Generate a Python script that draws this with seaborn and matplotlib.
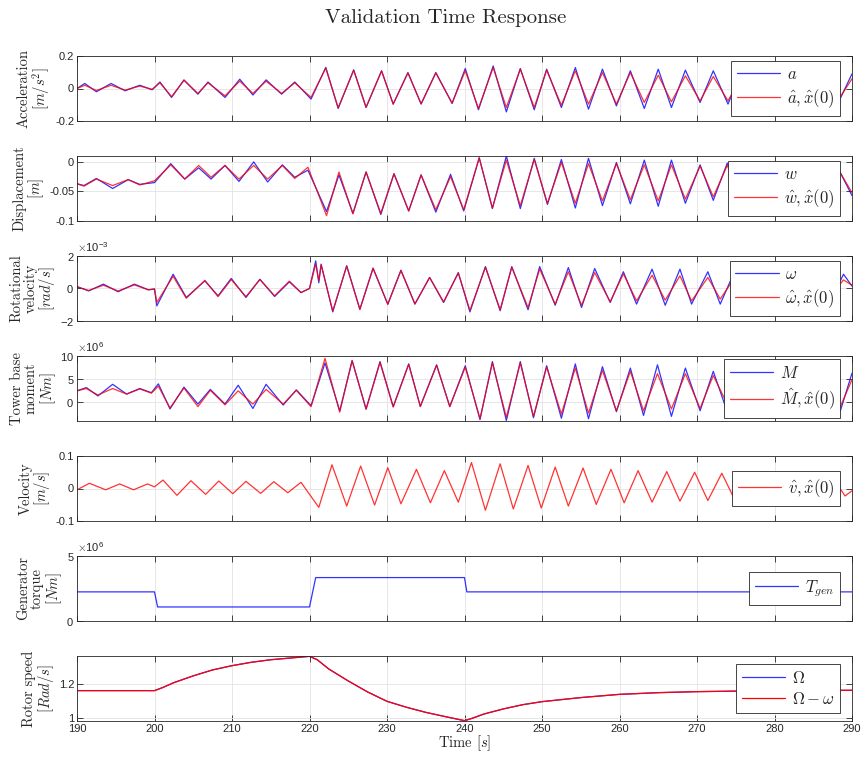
import numpy as np
import pandas as pd
import matplotlib
matplotlib.use('Agg')
import matplotlib.pyplot as plt
from matplotlib import ticker
import seaborn as sns

# values: peaks / troughs of each trace

# acceleration [m/s^2]
acc_t = [190.0, 191.0, 192.5, 194.4, 196.2, 198.1, 199.7,
         200.7, 202.2, 203.8, 205.6, 206.9, 209.1, 211.0, 212.7, 214.4, 216.4, 218.1, 220.2,
         222.1, 223.7, 225.7, 227.3, 229.3, 230.8, 232.7, 234.4, 236.3, 238.4,
         240.1, 241.8, 243.7, 245.4, 247.2, 249.0, 250.6, 252.5, 254.3, 256.0,
         257.8, 259.6, 261.4, 263.2, 265.0, 266.7, 268.5, 270.4, 272.1, 274.0,
         275.7, 277.4, 279.2, 281.0, 282.8, 284.6, 286.3, 288.3, 290.0]
acc_meas = [0.0, 0.031, -0.020, 0.031, -0.014, 0.020, -0.008,
            0.040, -0.055, 0.053, -0.035, 0.040, -0.055, 0.057, -0.040, 0.053, -0.035, 0.040, -0.065,
            0.130, -0.123, 0.115, -0.117, 0.109, -0.096, 0.098, -0.096, 0.098, -0.092,
            0.123, -0.131, 0.139, -0.144, 0.123, -0.131, 0.119, -0.117, 0.129, -0.127,
            0.119, -0.107, 0.109, -0.123, 0.119, -0.117, 0.113, -0.086, 0.109, -0.096,
            0.100, -0.092, 0.098, -0.090, 0.095, -0.088, 0.092, -0.080, 0.090]
acc_est = [0.0, 0.020, -0.012, 0.020, -0.010, 0.015, -0.005,
           0.035, -0.050, 0.050, -0.030, 0.035, -0.045, 0.045, -0.030, 0.045, -0.030, 0.035, -0.055,
           0.125, -0.118, 0.112, -0.115, 0.108, -0.096, 0.096, -0.094, 0.096, -0.090,
           0.109, -0.123, 0.129, -0.117, 0.119, -0.117, 0.113, -0.103, 0.109, -0.096,
           0.098, -0.096, 0.098, -0.086, 0.082, -0.082, 0.078, -0.076, 0.074, -0.076,
           0.072, -0.072, 0.070, -0.070, 0.068, -0.068, 0.066, -0.066, 0.060]

# displacement [m]
disp_t = [190.0, 190.9, 192.5, 194.6, 196.6, 198.1, 200.0, 202.1, 203.9, 205.7,
          207.3, 209.1, 210.9, 212.8, 214.6, 216.5, 218.1, 219.8, 222.2, 223.8,
          225.6, 227.3, 229.2, 230.9, 232.8, 234.4, 236.3, 238.2, 239.9, 241.9,
          243.6, 245.4, 247.2, 249.0, 250.7, 252.5, 254.3, 256.0, 257.8, 259.6,
          261.4, 263.2, 265.0, 266.7, 268.5, 270.4, 272.1, 273.9, 275.7, 277.4,
          279.2, 281.0, 282.8, 284.6, 286.3, 288.1, 290.0]
disp_meas = [-0.037, -0.040, -0.028, -0.045, -0.030, -0.038, -0.035, -0.003, -0.029, -0.010,
             -0.029, -0.006, -0.033, 0.000, -0.034, -0.005, -0.026, -0.014, -0.084, -0.022,
             -0.087, -0.017, -0.089, -0.020, -0.083, -0.022, -0.085, -0.021, -0.083, 0.007,
             -0.079, 0.010, -0.079, 0.006, -0.072, 0.004, -0.078, 0.006, -0.074, -0.001,
             -0.071, 0.003, -0.075, 0.003, -0.070, -0.005, -0.065, -0.002, -0.064, -0.002,
             -0.062, -0.004, -0.060, -0.005, -0.060, -0.008, -0.057]
disp_est = [-0.037, -0.041, -0.029, -0.040, -0.030, -0.039, -0.032, -0.005, -0.029, -0.006,
            -0.026, -0.006, -0.029, -0.006, -0.029, -0.006, -0.028, -0.009, -0.091, -0.017,
            -0.088, -0.017, -0.087, -0.020, -0.083, -0.022, -0.081, -0.025, -0.081, 0.007,
            -0.078, 0.003, -0.074, 0.004, -0.070, -0.001, -0.070, -0.003, -0.066, -0.003,
            -0.064, -0.005, -0.066, -0.005, -0.063, -0.007, -0.059, -0.006, -0.058, -0.007,
            -0.057, -0.008, -0.056, -0.009, -0.055, -0.010, -0.052]

# rotational velocity [1e-3 rad/s]
rot_t = [190.0, 191.5, 193.4, 195.3, 197.4, 199.2, 200.0,
         200.3, 202.4, 204.1, 206.5, 208.2, 209.9, 211.8, 213.6, 215.5, 217.4, 218.9, 220.0,
         220.8, 221.2, 221.5, 223.0, 224.8, 226.5, 228.2, 230.1, 231.8, 233.6,
         235.5, 237.3, 239.2, 240.7, 242.7, 244.6, 246.1, 248.2, 249.7, 251.7,
         253.4, 255.1, 256.8, 258.8, 260.5, 262.2, 264.2, 265.9, 267.8, 269.3,
         271.4, 273.0, 274.8, 276.6, 278.4, 280.1, 281.9, 283.7, 285.4, 287.2,
         288.9, 290.0]
rot_meas = [0.12, -0.15, 0.27, -0.20, 0.27, -0.08, -0.04,
            -1.07, 0.88, -0.55, 0.47, -0.45, 0.62, -0.55, 0.57, -0.49, 0.41, -0.25, 0.0,
            1.70, 0.35, 1.50, -1.44, 1.40, -1.27, 1.25, -0.96, 1.13, -0.96,
            0.68, -0.86, 0.98, -1.44, 1.35, -1.37, 1.35, -1.31, 1.35, -1.03,
            1.29, -1.17, 1.23, -0.86, 1.03, -0.96, 1.19, -1.03, 1.19, -0.96,
            1.03, -0.96, 1.00, -0.90, 0.95, -0.90, 0.95, -0.85, 0.90, -0.85,
            0.88, 0.15]
rot_est = [0.10, -0.12, 0.20, -0.15, 0.22, -0.08, -0.02,
           -0.85, 0.75, -0.60, 0.50, -0.50, 0.55, -0.50, 0.55, -0.45, 0.45, -0.25, 0.0,
           1.50, 0.50, 1.45, -1.38, 1.38, -1.30, 1.25, -0.98, 1.10, -0.95,
           0.68, -0.82, 0.95, -1.35, 1.30, -1.30, 1.30, -1.17, 1.20, -0.96,
           1.03, -1.03, 0.98, -0.82, 0.90, -0.76, 0.82, -0.72, 0.78, -0.76,
           0.68, -0.65, 0.62, -0.60, 0.58, -0.55, 0.55, -0.52, 0.52, -0.50,
           0.53, 0.20]

# tower base moment [1e6 Nm]
mom_t = [190.0, 191.2, 192.7, 194.6, 196.4, 198.1, 199.6,
         200.5, 202.0, 203.8, 205.6, 207.2, 209.1, 210.8, 212.7, 214.4, 216.6, 218.3, 220.2,
         222.0, 223.9, 225.5, 227.3, 229.1, 230.8, 232.8, 234.3, 236.4, 238.1,
         240.1, 242.0, 243.6, 245.4, 247.2, 248.9, 250.6, 252.5, 254.3, 256.0,
         257.8, 259.6, 261.4, 263.1, 264.9, 266.7, 268.5, 270.4, 272.1, 274.0,
         275.8, 277.5, 279.3, 281.1, 282.9, 284.7, 286.5, 288.5, 290.0]
mom_meas = [2.5, 3.2, 1.4, 3.9, 1.8, 3.0, 2.1,
            4.0, -1.4, 3.3, -0.35, 2.8, -0.35, 3.7, -1.3, 3.9, -0.56, 2.7, -0.7,
            8.5, -1.8, 9.0, -1.4, 8.8, -0.9, 8.3, -0.85, 8.1, -0.9,
            7.9, -3.7, 8.8, -3.9, 8.8, -3.3, 7.9, -3.4, 8.3, -3.5,
            7.7, -2.0, 7.4, -2.8, 8.1, -3.0, 7.4, -1.8, 6.7, -2.5,
            6.5, -2.5, 6.3, -2.3, 6.2, -2.2, 6.0, -1.8, 6.3]
mom_est = [2.5, 3.0, 1.6, 3.0, 1.8, 2.9, 2.0,
           3.5, -1.2, 3.1, -0.9, 2.6, -0.5, 2.5, -0.35, 2.8, -0.35, 2.6, -0.9,
           9.5, -2.1, 9.0, -1.5, 8.6, -1.0, 8.2, -0.9, 8.0, -0.9,
           7.6, -3.5, 8.5, -3.2, 8.5, -3.0, 7.6, -2.5, 7.4, -2.3,
           6.9, -1.8, 6.7, -1.8, 6.2, -1.4, 6.2, -1.3, 5.8, -0.7,
           5.6, -0.8, 5.4, -0.8, 5.2, -0.8, 5.0, -0.9, 4.9]

# velocity estimate [m/s]
vel_t = [190.0, 191.6, 193.7, 195.5, 197.3, 199.1, 200.0, 201.1, 202.9, 204.7, 206.6,
         208.3, 210.1, 211.8, 213.7, 215.4, 217.2, 218.9, 221.2, 222.9, 224.8,
         226.6, 228.4, 230.1, 231.8, 233.8, 235.6, 237.4, 239.2, 240.9, 242.7,
         244.6, 246.3, 248.2, 249.9, 251.7, 253.4, 255.3, 257.0, 258.9, 260.6,
         262.4, 264.2, 266.1, 267.8, 269.7, 271.4, 273.2, 274.9, 276.8, 278.5,
         280.3, 282.1, 283.9, 285.6, 287.4, 289.1, 290.0]
vel_est = [-0.004, 0.016, -0.004, 0.014, -0.004, 0.014, 0.005, 0.026, -0.021, 0.024, -0.018,
           0.023, -0.016, 0.022, -0.015, 0.021, -0.013, 0.019, -0.058, 0.073, -0.054,
           0.069, -0.051, 0.064, -0.047, 0.059, -0.044, 0.055, -0.042, 0.080, -0.067,
           0.076, -0.063, 0.071, -0.060, 0.066, -0.054, 0.063, -0.049, 0.059, -0.044,
           0.055, -0.042, 0.052, -0.039, 0.050, -0.037, 0.047, -0.036, 0.045, -0.035,
           0.043, -0.033, 0.040, -0.030, 0.038, -0.023, -0.007]

# generator torque [1e6 Nm]
gen_t = [190.0, 200.0, 200.4, 220.0, 220.8, 240.0, 240.3, 290.0]
gen_torque = [2.24, 2.24, 1.08, 1.08, 3.34, 3.34, 2.24, 2.24]

# rotor speed [rad/s]
rotor_t = [190, 200, 201, 202.5, 205, 207.5, 210, 212.5, 215, 217.5,
           220, 221, 222.5, 225, 227.5, 230, 232.5, 235, 237.5, 240,
           241, 242.5, 245, 247.5, 250, 255, 260, 265, 270, 275, 280, 290]
rotor_speed = [1.163, 1.163, 1.18, 1.21, 1.25, 1.285, 1.31, 1.33, 1.345, 1.355,
               1.365, 1.345, 1.29, 1.22, 1.155, 1.10, 1.065, 1.035, 1.01, 0.986,
               1.0, 1.025, 1.055, 1.08, 1.098, 1.122, 1.141, 1.151, 1.157, 1.16,
               1.163, 1.165]

BLUE = '#0000ff'
RED = '#ff0000'
DARK = '#262626'

sns.set_theme(style='ticks')
plt.rcParams['font.family'] = ['Liberation Sans', 'DejaVu Sans']
plt.rcParams['mathtext.fontset'] = 'cm'
plt.rcParams['axes.unicode_minus'] = False

fig = plt.figure(figsize=(8.64, 7.58), dpi=100)


def make_axes(i):
    top = 56 + 100.0 * i
    h = 65
    return fig.add_axes([77 / 864, 1 - (top + h) / 758, 775 / 864, h / 758])


def draw(ax, t, y, color, label, alpha=0.8):
    sns.lineplot(x=t, y=y, ax=ax, color=color, lw=0.9, alpha=alpha, label=label)


def style(ax, ylim, yticks, ylabel, power=None, last=False):
    ax.set_xlim(190, 290)
    ax.set_ylim(*ylim)
    ax.set_xticks(range(190, 291, 10))
    ax.set_yticks(yticks)
    if power is None:
        ax.yaxis.set_major_formatter(ticker.FormatStrFormatter('%g'))
    else:
        fmt = ticker.ScalarFormatter(useMathText=True)
        fmt.set_powerlimits((power, power))
        ax.yaxis.set_major_formatter(fmt)
        ax.yaxis.get_offset_text().set_fontsize(8)
        ax.yaxis.get_offset_text().set_color(DARK)
    ax.grid(True, color='#e3e3e3', lw=0.6)
    ax.set_axisbelow(True)
    for s in ax.spines.values():
        s.set_color(DARK)
        s.set_linewidth(0.6)
    ax.tick_params(direction='in', length=4, width=0.6, top=True, right=True,
                   labelsize=8, colors=DARK, pad=2)
    if not last:
        ax.tick_params(labelbottom=False)
        ax.set_xlabel('')
    ax.set_ylabel(ylabel, fontfamily='cmr10', fontsize=10.5, labelpad=2,
                  color=DARK, linespacing=1.0)
    leg = ax.legend(loc='center right', fontsize=12, fancybox=False, framealpha=1,
                    edgecolor=DARK, handlelength=2.6, borderaxespad=0.7,
                    borderpad=0.35, labelspacing=0.3, handletextpad=0.4)
    leg.get_frame().set_linewidth(0.6)


ax = make_axes(0)
draw(ax, acc_t, acc_meas, BLUE, r'$a$')
draw(ax, acc_t, acc_est, RED, r'$\hat{a}, \hat{x}(0)$')
style(ax, (-0.2, 0.2), [-0.2, 0, 0.2], 'Acceleration\n$[m/s^2]$')

ax = make_axes(1)
draw(ax, disp_t, disp_meas, BLUE, r'$w$')
draw(ax, disp_t, disp_est, RED, r'$\hat{w}, \hat{x}(0)$')
style(ax, (-0.1, 0.01), [-0.1, -0.05, 0], 'Displacement\n$[m]$')

ax = make_axes(2)
draw(ax, rot_t, np.array(rot_meas) * 1e-3, BLUE, r'$\omega$')
draw(ax, rot_t, np.array(rot_est) * 1e-3, RED, r'$\hat{\omega}, \hat{x}(0)$')
style(ax, (-2e-3, 2e-3), [-2e-3, 0, 2e-3], 'Rotational\nvelocity\n$[rad/s]$', power=-3)

ax = make_axes(3)
draw(ax, mom_t, np.array(mom_meas) * 1e6, BLUE, r'$M$')
draw(ax, mom_t, np.array(mom_est) * 1e6, RED, r'$\hat{M}, \hat{x}(0)$')
style(ax, (-4e6, 10e6), [0, 5e6, 10e6], 'Tower base\nmoment\n$[Nm]$', power=6)

ax = make_axes(4)
draw(ax, vel_t, vel_est, RED, r'$\hat{v}, \hat{x}(0)$')
style(ax, (-0.1, 0.1), [-0.1, 0, 0.1], 'Velocity\n$[m/s]$')

ax = make_axes(5)
draw(ax, gen_t, np.array(gen_torque) * 1e6, BLUE, r'$T_{gen}$')
style(ax, (0, 5e6), [0, 5e6], 'Generator\ntorque\n$[Nm]$', power=6)

ax = make_axes(6)
draw(ax, rotor_t, rotor_speed, BLUE, r'$\Omega$')
draw(ax, rotor_t, rotor_speed, RED, r'$\Omega - \omega$', alpha=1.0)
style(ax, (0.984, 1.367), [1, 1.2], 'Rotor speed\n$[Rad/s]$', last=True)
ax.set_xlabel('Time $[s]$', fontfamily='cmr10', fontsize=10.5, labelpad=0, color=DARK)

fig.text(446 / 864, 1 - 18 / 758, 'Validation Time Response', ha='center', va='center',
         fontfamily='cmr10', fontsize=15, color=DARK)

fig.savefig('out.png', dpi=100)
plt.close(fig)
